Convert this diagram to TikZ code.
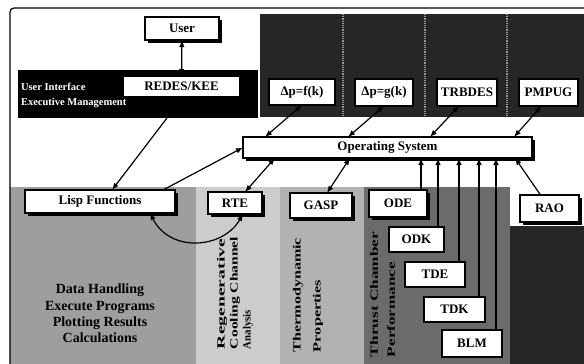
\documentclass[tikz,border=0pt]{standalone}
\usepackage{fontspec}
\setmainfont{Liberation Serif}
\usetikzlibrary{calc,shadows,arrows.meta}
\newcommand{\fitlabel}[2]{\resizebox{#1}{\height}{#2}}
\begin{document}
\begin{tikzpicture}[x=1pt,y=-1pt,inner sep=0pt,outer sep=0pt,very thick,>={Latex[length=7pt,width=5.5pt]},
modbox/.style={draw,rectangle,fill=white,font=\fontsize{13}{15}\selectfont\bfseries,
  drop shadow={shadow xshift=2.5pt,shadow yshift=-2.5pt,fill=black,opacity=1}},
plainbox/.style={draw,rectangle,fill=white,font=\fontsize{13}{15}\selectfont\bfseries},
sidelabel/.style={rotate=90,anchor=west,font=\fontsize{11}{13}\selectfont\bfseries}]
\useasboundingbox (0,0) rectangle (584,364);
% shaded areas
\fill[black!38] (10,187) rectangle (196,364);
\fill[black!20] (196,187) rectangle (280,364);
\fill[black!30] (280,187) rectangle (364,364);
\fill[black!58] (364,187) rectangle (510,364);
\fill[black!85] (510,226) rectangle (584,364);
\fill[black!85] (260,14) rectangle (584,117);
\foreach \xs in {343,425,507}
  \draw[black!40,densely dotted] (\xs,14) -- (\xs,117);
\draw[very thick,rounded corners=4] (584,8) -- (10,8) -- (10,364);
% user interface band
\node[fill=black,minimum width=240,minimum height=48,anchor=north west] (uiband) at (18,70) {};
\node[anchor=west,align=left,text=white,font=\fontsize{10.5}{15}\selectfont\bfseries] (uitext) at (21,95.5) {User Interface\\Executive Management};
\draw (182,28.5) node[modbox,minimum width=74,minimum height=23] (user) {User};
\draw (181.5,86.5) node[plainbox,minimum width=117,minimum height=21] (redes) {REDES/KEE};
% program columns
\draw (302,92) node[plainbox,minimum width=66,minimum height=26] (dpf) {Δp=f(k)};
\draw (384,92.5) node[plainbox,minimum width=58,minimum height=27] (dpg) {Δp=g(k)};
\draw (467,92.5) node[plainbox,minimum width=60,minimum height=27] (trbdes) {TRBDES};
\draw (548.5,92.5) node[plainbox,minimum width=59,minimum height=27] (pmpug) {PMPUG};
\draw (387.5,147.5) node[modbox,minimum width=289,minimum height=21] (os) {Operating System};
% lower modules
\draw (100,201.5) node[modbox,minimum width=150,minimum height=23] (lisp) {Lisp Functions};
\draw (235,203) node[modbox,minimum width=54,minimum height=22] (rte) {RTE};
\draw (321,205.5) node[modbox,minimum width=62,minimum height=25] (gasp) {GASP};
\draw (398,203.5) node[modbox,minimum width=58,minimum height=27] (ode) {ODE};
\draw (416.5,239.5) node[plainbox,minimum width=55,minimum height=25] (odk) {ODK};
\draw (435,274.5) node[plainbox,minimum width=60,minimum height=25] (tde) {TDE};
\draw (454.5,309.5) node[plainbox,minimum width=61,minimum height=25] (tdk) {TDK};
\draw (472,343.5) node[plainbox,minimum width=60,minimum height=27] (blm) {BLM};
\draw (549.5,208.5) node[modbox,minimum width=59,minimum height=27] (rao) {RAO};
% area labels
\node[align=center,font=\fontsize{14}{16.4}\selectfont\bfseries] (tasks) at (100,313.5) {Data Handling\\Execute Programs\\Plotting Results\\Calculations};
\node[sidelabel] (rcca) at (222,349) {\fitlabel{110pt}{Regenerative}};
\node[sidelabel] (rccb) at (235,349) {\fitlabel{112pt}{Cooling Channel}};
\node[sidelabel] (rccc) at (248,349) {\fitlabel{39pt}{Analysis}};
\node[sidelabel] (thpa) at (298,352) {\fitlabel{114pt}{Thermodynamic}};
\node[sidelabel] (thpb) at (318,352) {\fitlabel{72pt}{Properties}};
\node[sidelabel] (tcpa) at (374,357) {\fitlabel{125pt}{Thrust Chamber}};
\node[sidelabel] (tcpb) at (391,357) {\fitlabel{95pt}{Performance}};
% connections
\draw[<->] (user) -- (redes);
\draw[->] ($(uiband.south west)+(149,0)$) -- ($(lisp.north)+(12,0)$);
\draw[->] ($(lisp.north)+(63,0)$) -- (os.west);
\draw[<->] (dpf.south) -- ($(os.north west)+(22,0)$);
\draw[<->] (dpg.south) -- ($(os.north west)+(105,0)$);
\draw[<->] ($(trbdes.south)+(-8,0)$) -- ($(os.north west)+(187,0)$);
\draw[<->] ($(pmpug.south)+(-7,0)$) -- ($(os.north west)+(271,0)$);
\draw[<->] ($(os.south west)+(32,0)$) -- ($(rte.north)+(10,0)$);
\draw[<->] ($(os.south west)+(107,0)$) -- ($(gasp.north)+(6,0)$);
\foreach \m in {ode,odk,tde,tdk,blm}
  \draw[->] ($(\m.north east)+(-6,0)$) coordinate (tap) -- (tap |- os.south);
\draw[->] ($(rao.north)+(-9,0)$) -- ($(os.south east)+(-17,0)$);
\draw[<->] ($(lisp.south east)+(-25,0)$) .. controls +(20,40) and +(-20,35) .. ($(rte.south)+(8,0)$);
\end{tikzpicture}
\end{document}
